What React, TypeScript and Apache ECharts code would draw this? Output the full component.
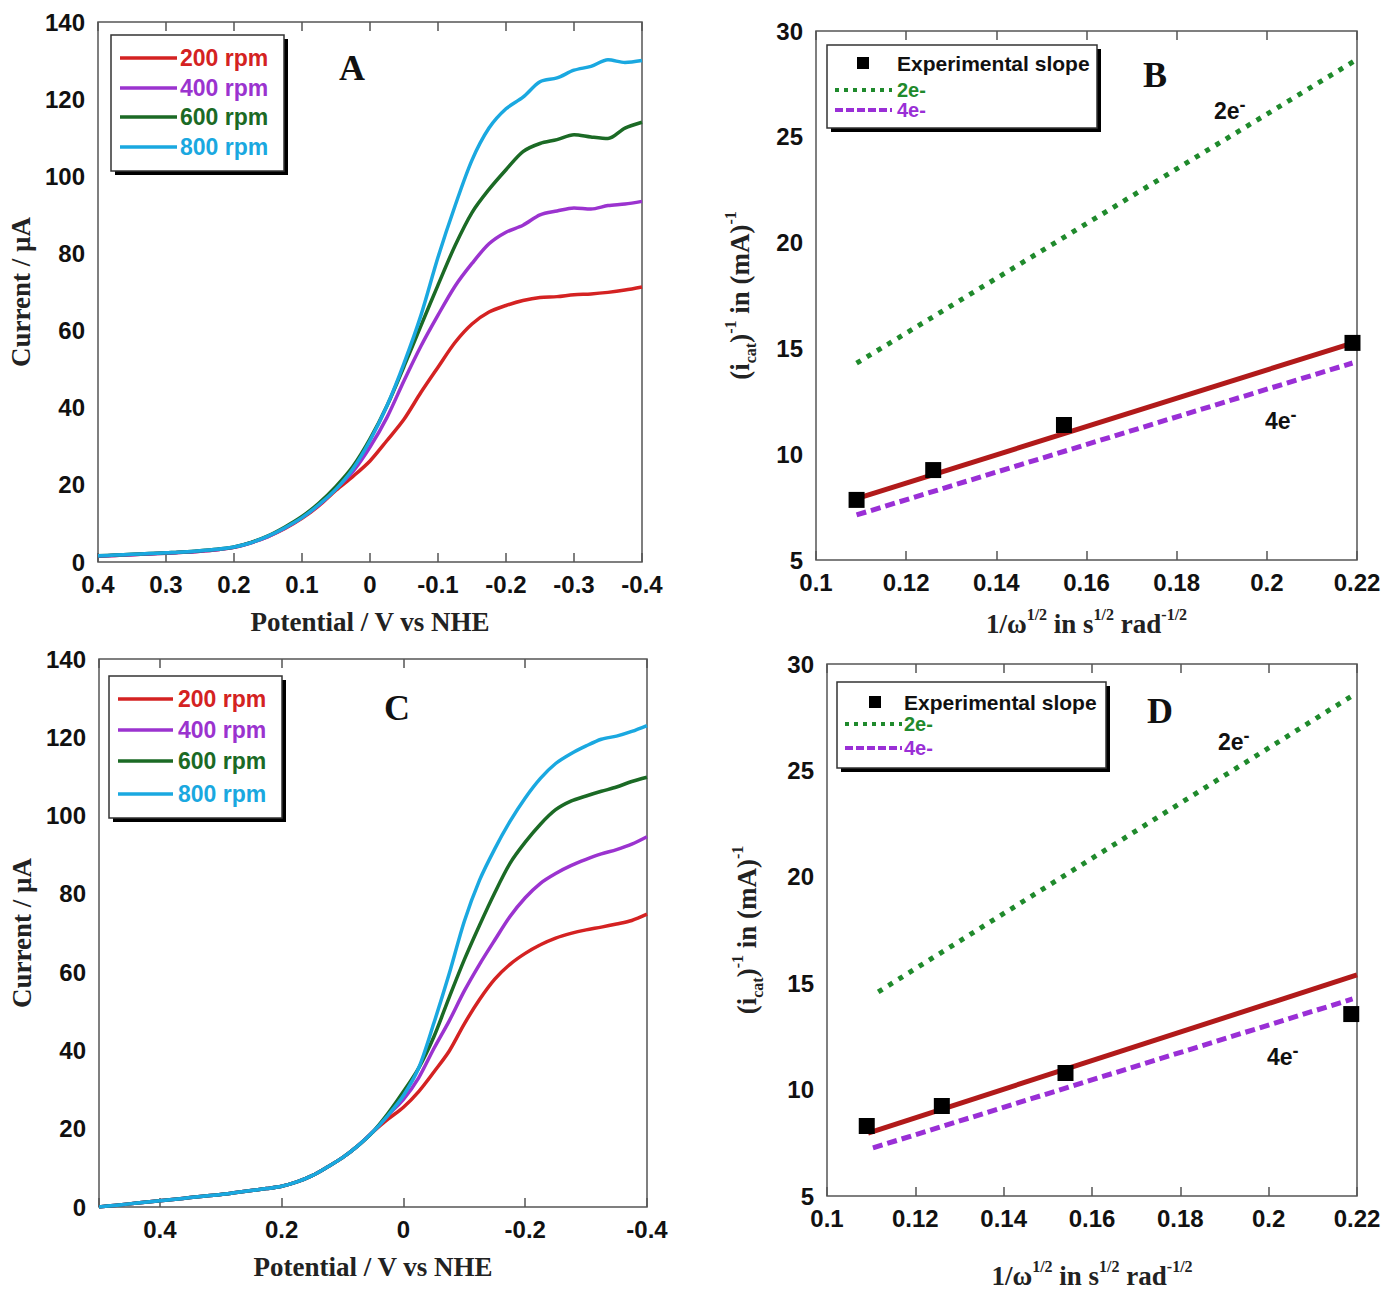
import React, { useEffect, useRef } from "react";
import * as echarts from "echarts";

// ---------- Panel A (linear sweep, rotating disk) ----------
const potA = [0.4, 0.375, 0.35, 0.325, 0.3, 0.275, 0.25, 0.225, 0.2, 0.175, 0.15, 0.125, 0.1, 0.075, 0.05, 0.025, 0, -0.025, -0.05, -0.075, -0.1, -0.125, -0.15, -0.175, -0.2, -0.225, -0.25, -0.275, -0.3, -0.325, -0.35, -0.375, -0.4];
const A200 = [1.5, 1.7, 1.9, 2.1, 2.3, 2.5, 2.8, 3.2, 3.8, 5.0, 6.6, 8.7, 11.3, 14.6, 18.6, 22.2, 26.2, 31.5, 37, 44, 50.5, 56.9, 61.7, 64.8, 66.5, 67.8, 68.6, 68.8, 69.3, 69.5, 69.9, 70.5, 71.3];
const A400 = [1.5, 1.7, 1.9, 2.1, 2.3, 2.5, 2.8, 3.2, 3.8, 5.0, 6.6, 8.8, 11.5, 14.8, 19.0, 23.5, 29.8, 37.5, 47, 56, 64, 71.5, 77.4, 82.5, 85.5, 87.3, 90, 91, 91.8, 91.5, 92.4, 92.8, 93.5];
const A600 = [1.6, 1.8, 2.0, 2.2, 2.4, 2.6, 2.9, 3.3, 3.9, 5.1, 6.8, 9.1, 11.8, 15.3, 19.6, 24.8, 31.9, 40.5, 50.7, 61.3, 71.8, 82, 90.6, 96.6, 101.7, 106.4, 108.5, 109.5, 110.8, 110.2, 109.8, 112.5, 114];
const A800 = [1.6, 1.8, 2.0, 2.2, 2.4, 2.6, 2.9, 3.3, 3.9, 5.0, 6.7, 8.9, 11.5, 14.9, 18.9, 24.2, 31.5, 40.5, 51.5, 64, 79, 92.3, 104.2, 112.5, 117.5, 120.5, 124.5, 125.5, 127.5, 128.5, 130.2, 129.5, 130];

// ---------- Panel C ----------
const potC = [0.5, 0.475, 0.45, 0.425, 0.4, 0.375, 0.35, 0.325, 0.3, 0.275, 0.25, 0.225, 0.2, 0.175, 0.15, 0.125, 0.1, 0.075, 0.05, 0.025, 0, -0.025, -0.05, -0.075, -0.1, -0.125, -0.15, -0.175, -0.2, -0.225, -0.25, -0.275, -0.3, -0.325, -0.35, -0.375, -0.4];
const C200 = [0, 0.4, 0.8, 1.2, 1.6, 2.0, 2.4, 2.8, 3.2, 3.7, 4.2, 4.7, 5.3, 6.4, 8.0, 10.2, 12.6, 15.6, 19.2, 22.5, 25.5, 29.5, 34.5, 39.8, 46.8, 53, 58.2, 62, 64.8, 67, 68.7, 69.9, 70.8, 71.5, 72.3, 73.2, 74.8];
const C400 = [0, 0.4, 0.8, 1.2, 1.6, 2.0, 2.4, 2.8, 3.2, 3.7, 4.2, 4.7, 5.3, 6.4, 8.0, 10.2, 12.6, 15.6, 19.2, 23.5, 27.5, 33, 40.5, 47.5, 55.2, 62, 68.2, 74.2, 79, 82.7, 85.2, 87.2, 88.8, 90.2, 91.3, 92.7, 94.6];
const C600 = [0, 0.4, 0.8, 1.2, 1.6, 2.0, 2.4, 2.8, 3.2, 3.7, 4.2, 4.7, 5.3, 6.4, 8.0, 10.2, 12.6, 15.6, 19.2, 24, 29.5, 35.5, 43.5, 53.5, 63.2, 72, 80.3, 87.8, 93.2, 97.8, 101.5, 103.7, 105, 106.2, 107.3, 108.7, 109.8];
const C800 = [0, 0.4, 0.8, 1.2, 1.6, 2.0, 2.4, 2.8, 3.2, 3.7, 4.2, 4.7, 5.3, 6.4, 8.0, 10.2, 12.6, 15.6, 19.2, 23.5, 28.5, 35.5, 47, 59.5, 73, 83.5, 91.5, 98.5, 104.5, 109.5, 113.3, 115.8, 117.8, 119.5, 120.3, 121.5, 123];

// ---------- Panel B (Koutecky-Levich) ----------
const bX = [0.109, 0.126, 0.155, 0.219];
const bExp = [7.84, 9.25, 11.38, 15.26];
const bFitX = [0.109, 0.219];
const bFitY = [7.9, 15.25];
const b2eX = [0.109, 0.2194];
const b2eY = [14.3, 28.58];
const b4eX = [0.109, 0.219];
const b4eY = [7.13, 14.31];

// ---------- Panel D ----------
const dX = [0.109, 0.126, 0.154, 0.2187];
const dExp = [8.29, 9.23, 10.78, 13.55];
const dFitX = [0.1093, 0.22];
const dFitY = [7.96, 15.39];
const d2eX = [0.1116, 0.2194];
const d2eY = [14.59, 28.57];
const d4eX = [0.1104, 0.219];
const d4eY = [7.26, 14.26];

const rpmNames = ["200 rpm", "400 rpm", "600 rpm", "800 rpm"];
const rpmColors = ["#d42222", "#9b33cf", "#1b6a25", "#1aa8e0"];
const fitColor = "#b11a1a";
const green2e = "#1f8a2c";
const purple4e = "#9a2fd6";

const SANS = "'Liberation Sans', Arial, sans-serif";
const SERIF = "'Liberation Serif', 'Times New Roman', serif";

const pair = (xs: number[], ys: number[]) => xs.map((x, i) => [x, ys[i]]);
const fmt = (v: number) => {
  const r = Math.round(v * 1000) / 1000;
  return String(r === 0 ? 0 : r);
};

const grids = [
  { left: 98, top: 22, width: 544, height: 540 },
  { left: 816, top: 31, width: 541, height: 529 },
  { left: 99, top: 659, width: 548, height: 548 },
  { left: 827, top: 664, width: 530, height: 532 },
];

const tickLabel = { fontFamily: SANS, fontWeight: "bold" as const, fontSize: 24, color: "#111" };
const titleStyle = { fontFamily: SERIF, fontWeight: "bold" as const, fontSize: 27, color: "#222" };
const richTitle = {
  b: { fontFamily: SERIF, fontWeight: "bold" as const, fontSize: 27, color: "#222", lineHeight: 36 },
  sup: { fontFamily: SERIF, fontWeight: "bold" as const, fontSize: 16, color: "#222", verticalAlign: "top" as const },
  sub: { fontFamily: SERIF, fontWeight: "bold" as const, fontSize: 16, color: "#222", verticalAlign: "bottom" as const },
};

const klX = "{b|1/ω}{sup|1/2}{b| in s}{sup|1/2}{b| rad}{sup|-1/2}";
const klY = "{b|(i}{sub|cat}{b|)}{sup|-1}{b| in (mA)}{sup|-1}";

function xPair(grid: number, min: number, max: number, interval: number, inverse: boolean, name: string, gap: number, rich: boolean, hide?: number) {
  const common = {
    gridIndex: grid,
    type: "value" as const,
    min,
    max,
    interval,
    inverse,
    axisLine: { show: false },
    splitLine: { show: false },
    axisTick: { show: true, inside: true, length: 9, lineStyle: { color: "#555", width: 1.5 } },
  };
  return [
    {
      ...common,
      position: "bottom" as const,
      axisLabel: {
        ...tickLabel,
        margin: 10,
        formatter: (v: number) => (hide !== undefined && Math.abs(v - hide) < 1e-6 ? "" : fmt(v)),
      },
      name,
      nameLocation: "middle" as const,
      nameGap: gap,
      nameTextStyle: rich ? { rich: richTitle } : titleStyle,
    },
    { ...common, position: "top" as const, axisLabel: { show: false } },
  ];
}

function yAxis(grid: number, min: number, max: number, interval: number, name: string, gap: number, rich: boolean) {
  return {
    gridIndex: grid,
    type: "value" as const,
    min,
    max,
    interval,
    position: "left" as const,
    axisLine: { show: false },
    axisTick: { show: false },
    splitLine: { show: false },
    axisLabel: { ...tickLabel, margin: 13, formatter: fmt },
    name,
    nameLocation: "middle" as const,
    nameGap: gap,
    nameRotate: 90,
    nameTextStyle: rich ? { rich: richTitle } : titleStyle,
  };
}

function legendRpm(x: number, y: number, w: number, h: number, rows: number[], lx1: number, lx2: number, tx: number) {
  const els: any[] = [
    { type: "rect", z: 100, shape: { x: x + 4, y: y + 4, width: w, height: h }, style: { fill: "#000" } },
    { type: "rect", z: 101, shape: { x, y, width: w, height: h }, style: { fill: "#fff", stroke: "#333", lineWidth: 1.5 } },
  ];
  rows.forEach((ry, i) => {
    els.push({ type: "line", z: 102, shape: { x1: lx1, y1: ry, x2: lx2, y2: ry }, style: { stroke: rpmColors[i], lineWidth: 3.5 } });
    els.push({
      type: "text",
      z: 102,
      x: tx,
      y: ry,
      style: { text: rpmNames[i], fill: rpmColors[i], font: `bold 23px ${SANS}`, align: "left", verticalAlign: "middle" },
    });
  });
  return els;
}

function legendKL(x: number, y: number, w: number, h: number, rows: number[], sqx: number, lx1: number, lx2: number, tx: number) {
  return [
    { type: "rect", z: 100, shape: { x: x + 4, y: y + 4, width: w, height: h }, style: { fill: "#000" } },
    { type: "rect", z: 101, shape: { x, y, width: w, height: h }, style: { fill: "#fff", stroke: "#333", lineWidth: 1.5 } },
    { type: "rect", z: 102, shape: { x: sqx - 6, y: rows[0] - 6, width: 12, height: 12 }, style: { fill: "#000" } },
    { type: "text", z: 102, x: tx, y: rows[0], style: { text: "Experimental slope", fill: "#111", font: `bold 21px ${SANS}`, align: "left", verticalAlign: "middle" } },
    { type: "line", z: 102, shape: { x1: lx1, y1: rows[1], x2: lx2, y2: rows[1] }, style: { stroke: green2e, lineWidth: 4, lineDash: [4, 5] } },
    { type: "text", z: 102, x: tx, y: rows[1], style: { text: "2e-", fill: green2e, font: `bold 20px ${SANS}`, align: "left", verticalAlign: "middle" } },
    { type: "line", z: 102, shape: { x1: lx1, y1: rows[2], x2: lx2, y2: rows[2] }, style: { stroke: purple4e, lineWidth: 4, lineDash: [8, 3] } },
    { type: "text", z: 102, x: tx, y: rows[2], style: { text: "4e-", fill: purple4e, font: `bold 20px ${SANS}`, align: "left", verticalAlign: "middle" } },
  ];
}

const annRich = {
  b: { font: `bold 23px ${SANS}`, fill: "#111", lineHeight: 30 },
  s: { font: `bold 18px ${SANS}`, fill: "#111", verticalAlign: "top" as const },
};
const ann = (x: number, y: number, t: string) => ({
  type: "text",
  z: 102,
  x,
  y,
  style: { text: `{b|${t}}{s|-}`, rich: annRich, align: "left", verticalAlign: "middle" },
});
const letter = (x: number, y: number, t: string) => ({
  type: "text",
  z: 102,
  x,
  y,
  style: { text: t, fill: "#111", font: `bold 36px ${SERIF}`, align: "center", verticalAlign: "middle" },
});

function rpmSeries(axis: number, pot: number[], ys: number[][]) {
  return ys.map((arr, i) => ({
    type: "line" as const,
    name: rpmNames[i],
    xAxisIndex: axis * 2,
    yAxisIndex: axis,
    data: pair(pot, arr),
    symbol: "none",
    smooth: 0.3,
    lineStyle: { color: rpmColors[i], width: 3.5 },
    z: 2 + i,
  }));
}

function klSeries(axis: number, ex: number[], ey: number[], fx: number[], fy: number[], x2: number[], y2: number[], x4: number[], y4: number[]) {
  return [
    { type: "line" as const, name: "2e-", xAxisIndex: axis * 2, yAxisIndex: axis, data: pair(x2, y2), symbol: "none", lineStyle: { color: green2e, width: 5, type: [5, 7], cap: "butt" }, z: 2 },
    { type: "line" as const, name: "4e-", xAxisIndex: axis * 2, yAxisIndex: axis, data: pair(x4, y4), symbol: "none", lineStyle: { color: purple4e, width: 5, type: [10, 5], cap: "butt" }, z: 3 },
    { type: "line" as const, name: "Fit", xAxisIndex: axis * 2, yAxisIndex: axis, data: pair(fx, fy), symbol: "none", lineStyle: { color: fitColor, width: 5 }, z: 4 },
    { type: "scatter" as const, name: "Experimental slope", xAxisIndex: axis * 2, yAxisIndex: axis, data: pair(ex, ey), symbol: "rect", symbolSize: 16, itemStyle: { color: "#000", opacity: 1 }, z: 5 },
  ];
}

export default function App() {
  const ref = useRef<HTMLDivElement>(null);
  useEffect(() => {
    const chart = echarts.init(ref.current!, null, { renderer: "svg" });
    const option: any = {
      animation: false,
      backgroundColor: "#fff",
      grid: grids.map((g) => ({ ...g, show: true, borderColor: "#555", borderWidth: 1.5, backgroundColor: "transparent" })),
      xAxis: [
        ...xPair(0, -0.4, 0.4, 0.1, true, "Potential / V vs NHE", 46, false),
        ...xPair(1, 0.1, 0.22, 0.02, false, klX, 46, true),
        ...xPair(2, -0.4, 0.5, 0.2, true, "Potential / V vs NHE", 46, false, 0.5),
        ...xPair(3, 0.1, 0.22, 0.02, false, klX, 62, true),
      ],
      yAxis: [
        yAxis(0, 0, 140, 20, "Current / µA", 64, false),
        yAxis(1, 5, 30, 5, klY, 58, true),
        yAxis(2, 0, 140, 20, "Current / µA", 64, false),
        yAxis(3, 5, 30, 5, klY, 62, true),
      ],
      series: [
        ...rpmSeries(0, potA, [A200, A400, A600, A800]),
        ...klSeries(1, bX, bExp, bFitX, bFitY, b2eX, b2eY, b4eX, b4eY),
        ...rpmSeries(2, potC, [C200, C400, C600, C800]),
        ...klSeries(3, dX, dExp, dFitX, dFitY, d2eX, d2eY, d4eX, d4eY),
      ],
      graphic: [
        ...legendRpm(111, 35, 173, 136, [58, 88, 117, 147], 120, 177, 180),
        ...legendRpm(109, 676, 173, 142, [699, 730, 761, 794], 118, 173, 178),
        ...legendKL(827, 45, 270, 83, [63, 90, 110], 863, 835, 892, 897),
        ...legendKL(837, 682, 269, 86, [702, 724, 748], 875, 845, 902, 904),
        letter(352, 68, "A"),
        letter(1155, 75, "B"),
        letter(397, 708, "C"),
        letter(1160, 711, "D"),
        ann(1214, 111, "2e"),
        ann(1265, 421, "4e"),
        ann(1218, 742, "2e"),
        ann(1267, 1057, "4e"),
      ],
    };
    chart.setOption(option);
    return () => chart.dispose();
  }, []);
  return <div ref={ref} style={{ position: "absolute", left: 0, top: 0, width: 1388, height: 1299, background: "#fff" }} />;
}
